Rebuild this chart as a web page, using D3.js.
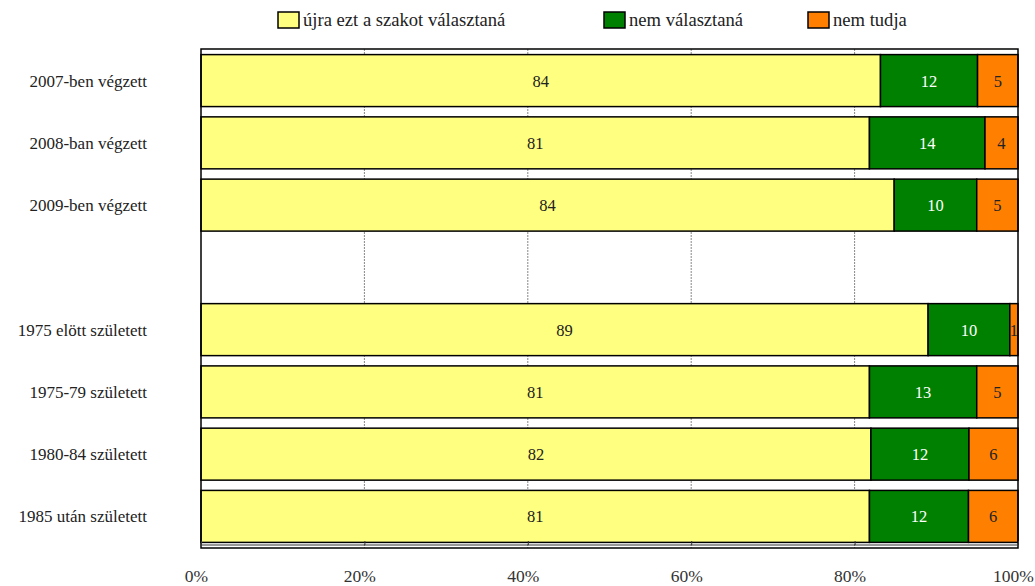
<!DOCTYPE html>
<html><head><meta charset="utf-8">
<script src="https://cdn.jsdelivr.net/npm/d3@7"></script>
<style>body{margin:0;background:#fff}svg{display:block}text{font-family:"Liberation Serif","Times New Roman",serif;}</style>
</head><body><svg id="c" width="1035" height="586"></svg>
<script>
const categories = ["2007-ben végzett","2008-ban végzett","2009-ben végzett","","1975 elött született","1975-79 született","1980-84 született","1985 után született"];
const seriesNames = ["újra ezt a szakot választaná","nem választaná","nem tudja"];
const ujra = [84,81,84,null,89,81,82,81];
const nem = [12,14,10,null,10,13,12,12];
const nemTudja = [5,4,5,null,1,5,6,6];
const ticks = [0,20,40,60,80,100];
const colors = ["#FFFF80","#008000","#FF8000"];
const labelColors = ["#222","#fff","#222"];

const svg = d3.select("#c");
const L=201,R=1018,T=49,B=548;
const x = d3.scaleLinear().domain([0,100]).range([L,R]);
const y = d3.scaleBand().domain(categories.map((c,i)=>i)).range([T,B]).paddingInner(0.165).paddingOuter(0.09);

// gridlines
svg.append("g").selectAll("line").data(ticks.slice(1,-1)).join("line")
 .attr("x1",d=>x(d)).attr("x2",d=>x(d)).attr("y1",T).attr("y2",B)
 .attr("stroke","#888").attr("stroke-width",1).attr("stroke-dasharray","2,1");

const rows = categories.map((c,i)=>({i, vals:[ujra[i],nem[i],nemTudja[i]]})).filter(r=>r.vals[0]!==null);
rows.forEach(r=>{
  const total = d3.sum(r.vals);
  let acc=0;
  r.segs = r.vals.map((v,k)=>{const s={k,v,x0:acc/total*100,x1:(acc+v)/total*100,i:r.i};acc+=v;return s;});
});
const g = svg.append("g");
rows.forEach(r=>{
  const gg = g.append("g");
  gg.selectAll("rect").data(r.segs).join("rect")
    .attr("x",d=>x(d.x0)).attr("width",d=>x(d.x1)-x(d.x0))
    .attr("y",y(r.i)).attr("height",y.bandwidth())
    .attr("fill",d=>colors[d.k]).attr("stroke","#000").attr("stroke-width",1.5);
  gg.selectAll("text").data(r.segs).join("text")
    .attr("x",d=>(x(d.x0)+x(d.x1))/2).attr("y",y(r.i)+y.bandwidth()/2+6)
    .attr("text-anchor","middle").attr("font-size",16.5)
    .attr("fill",d=>labelColors[d.k]).text(d=>d.v);
});

// border
svg.append("rect").attr("x",L).attr("y",T).attr("width",R-L).attr("height",B-T)
 .attr("fill","none").attr("stroke","#000").attr("stroke-width",1.5);
svg.append("line").attr("x1",L).attr("x2",R).attr("y1",B-3).attr("y2",B-3).attr("stroke","#333").attr("stroke-width",1);

// x axis
const xa = svg.append("g").attr("transform",`translate(0,${B-3})`)
 .call(d3.axisBottom(x).tickValues(ticks).tickSize(-4).tickFormat(d=>d+"%"));
xa.select(".domain").remove();
xa.attr("font-family",null);
xa.selectAll(".tick line").attr("stroke","#333");
xa.selectAll(".tick text").attr("font-size",17.5).attr("fill","#333")
 .attr("dy",0).attr("y",37).attr("dx",-5);

// category labels
svg.append("g").selectAll("text").data(categories.map((c,i)=>({c,i})).filter(d=>d.c)).join("text")
 .attr("x",147).attr("y",d=>y(d.i)+y.bandwidth()/2+6).attr("text-anchor","end")
 .attr("font-size",17).attr("fill","#222").text(d=>d.c);

// legend
const legX=[278,604,808];
const lg = svg.append("g").selectAll("g").data(seriesNames).join("g")
 .attr("transform",(d,i)=>`translate(${legX[i]},12)`);
lg.append("rect").attr("width",21).attr("height",16).attr("fill",(d,i)=>colors[i]).attr("stroke","#000").attr("stroke-width",1.5);
lg.append("text").attr("x",25).attr("y",14).attr("font-size",18.6).attr("fill","#222").text(d=>d);
</script></body></html>
